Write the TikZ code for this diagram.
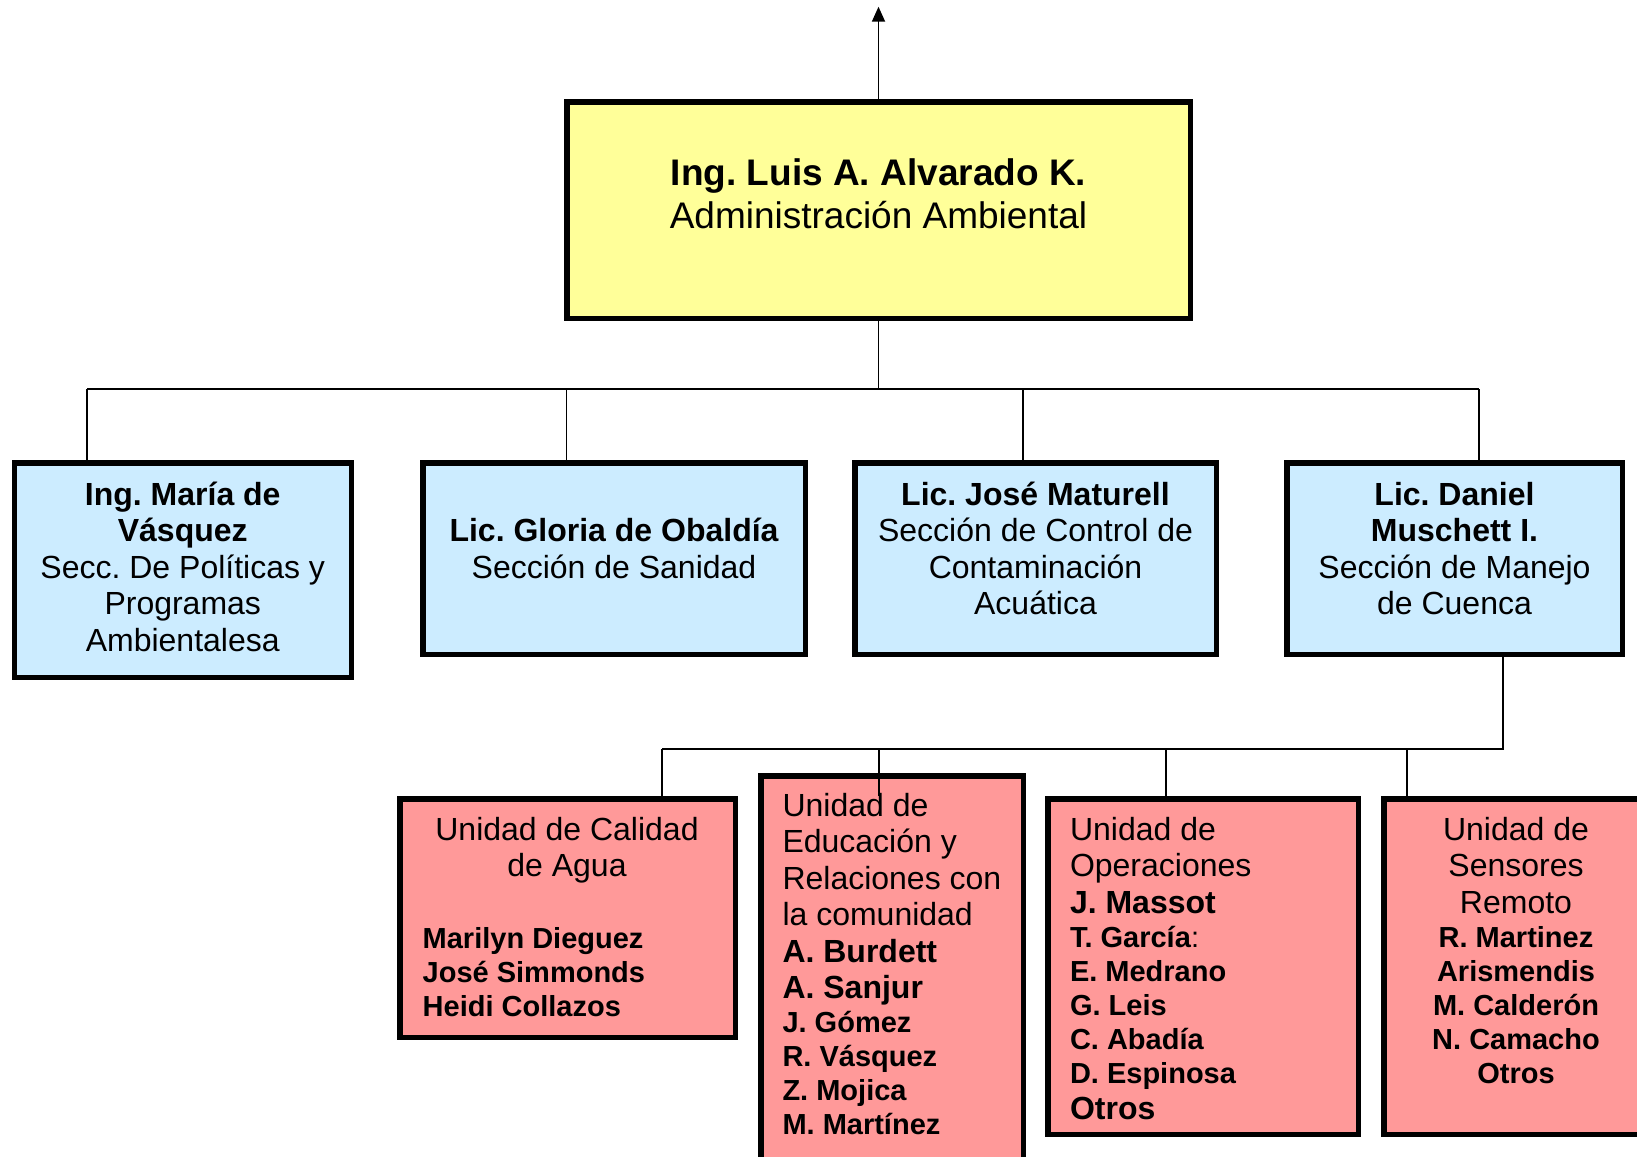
\documentclass[tikz,border=0pt]{standalone}
\usepackage{fontspec}
\setmainfont{Liberation Sans}
\usetikzlibrary{arrows.meta}
\definecolor{cyel}{HTML}{FFFF99}
\definecolor{cblu}{HTML}{CCECFF}
\definecolor{cpnk}{HTML}{FF9999}
\frenchspacing
\newcommand{\xTitle}{\fontsize{37}{43}\selectfont}
\newcommand{\xReg}{\fontsize{32}{36.5}\selectfont\mdseries}
\newcommand{\xBig}{\fontsize{32}{36.5}\selectfont\bfseries}
\newcommand{\xSmall}{\fontsize{29}{34}\selectfont\bfseries}
\begin{document}
\begin{tikzpicture}[x=1pt,y=-1pt,
  box/.style={draw=black, line width=5.5pt, inner sep=0pt, outer sep=2.75pt, anchor=north west},
  link/.style={draw=black, line width=1.8pt},
  txt/.style={inner sep=0pt, outer sep=0pt, execute at begin node=\frenchspacing}]
\useasboundingbox (0,0) rectangle (1637,1156);
\clip (0,0) rectangle (1637,1156);
% boxes
\node[box, fill=cyel, minimum width=623.5pt, minimum height=216.5pt] (top) at (564,99) {};
\node[box, fill=cblu, minimum width=337pt, minimum height=214.5pt] (b1) at (11.5,460) {};
\node[box, fill=cblu, minimum width=382.5pt, minimum height=191.5pt] (b2) at (420,460) {};
\node[box, fill=cblu, minimum width=361.5pt, minimum height=191.5pt] (b3) at (852,460) {};
\node[box, fill=cblu, minimum width=335.5pt, minimum height=191.5pt] (b4) at (1284,460) {};
\node[box, fill=cpnk, minimum width=335.5pt, minimum height=238.5pt] (uA) at (397,796) {};
\node[box, fill=cpnk, minimum width=262.5pt, minimum height=396.5pt] (uB) at (758,773) {};
\node[box, fill=cpnk, minimum width=310.5pt, minimum height=335.5pt] (uC) at (1045,796) {};
\node[box, fill=cpnk, minimum width=264.5pt, minimum height=335.5pt] (uD) at (1381,796) {};
% texts
\node[txt, anchor=base] (ttop) at (878.5,185) {\parbox[t]{620pt}{\centering\xTitle
  \textbf{Ing. Luis A. Alvarado K.}\par Administración Ambiental\par}};
\node[txt, anchor=base] (t1) at (182.75,505) {\parbox[t]{330pt}{\centering
  \xBig Ing. María de\par Vásquez\par \xReg Secc. De Políticas y\par Programas\par Ambientalesa\par}};
\node[txt, anchor=base] (t2) at (614,541.5) {\parbox[t]{380pt}{\centering
  \xBig Lic. Gloria de Obaldía\par \xReg Sección de Sanidad\par}};
\node[txt, anchor=base] (t3) at (1035.5,505) {\parbox[t]{360pt}{\centering
  \xBig Lic. José Maturell\par \xReg Sección de Control de\par Contaminación\par Acuática\par}};
\node[txt, anchor=base] (t4) at (1454.5,505) {\parbox[t]{330pt}{\centering
  \xBig Lic. Daniel\par Muschett I.\par \xReg Sección de Manejo\par de Cuenca\par}};
\node[txt, anchor=base] (tA) at (567,840) {\parbox[t]{330pt}{\centering
  \xReg Unidad de Calidad\par de Agua\par}};
\node[txt, anchor=base west] (nA) at (422.7,948) {\parbox[t]{300pt}{\raggedright
  \xSmall Marilyn Dieguez\par José Simmonds\par Heidi Collazos\par}};
\node[txt, anchor=base west] (tB) at (782.5,816) {\parbox[t]{300pt}{\raggedright
  \xReg Unidad de\par Educación y\par Relaciones con\par la comunidad\par
  \xBig A. Burdett\par A. Sanjur\par
  \xSmall J. Gómez\par R. Vásquez\par Z. Mojica\par M. Martínez\par}};
\node[txt, anchor=base west] (tC) at (1070,840) {\parbox[t]{300pt}{\raggedright
  \xReg Unidad de\par Operaciones\par
  \xBig J. Massot\par
  \xSmall T. García\textmd{:}\par E. Medrano\par G. Leis\par C. Abadía\par D. Espinosa\par
  \xBig Otros\par}};
\node[txt, anchor=base] (tD) at (1516,840) {\parbox[t]{260pt}{\centering
  \xReg Unidad de\par Sensores\par Remoto\par
  \xSmall R. Martinez\par Arismendis\par M. Calderón\par N. Camacho\par Otros\par}};
% connectors
\coordinate (up) at (878.5,6.7);
\draw[link, -{Triangle[length=15pt,width=13pt]}] (top.north) -- (up);
\coordinate (j1) at (87,389);
\coordinate (j2) at (566.4,389);
\coordinate (j3) at (1023,389);
\coordinate (j4) at (1479,389);
\draw[link] (top.south) -- (top.south |- j1);
\draw[link] (j1) -- (j4);
\draw[link] (j1) -- (j1 |- b1.north);
\draw[link] (j2) -- (j2 |- b2.north);
\draw[link] (j3) -- (j3 |- b3.north);
\draw[link] (j4) -- (j4 |- b4.north);
\coordinate (k0) at (1502.6,749);
\coordinate (k1) at (662,749);
\coordinate (k2) at (879,749);
\coordinate (k3) at (1166,749);
\coordinate (k4) at (1407,749);
\draw[link] (k0 |- b4.south) -- (k0) -- (k1);
\draw[link] (k1) -- (k1 |- uA.north);
\draw[link] (k2) -- (k2 |- uA.north);
\draw[link] (k3) -- (k3 |- uC.north);
\draw[link] (k4) -- (k4 |- uD.north);
\end{tikzpicture}
\end{document}
